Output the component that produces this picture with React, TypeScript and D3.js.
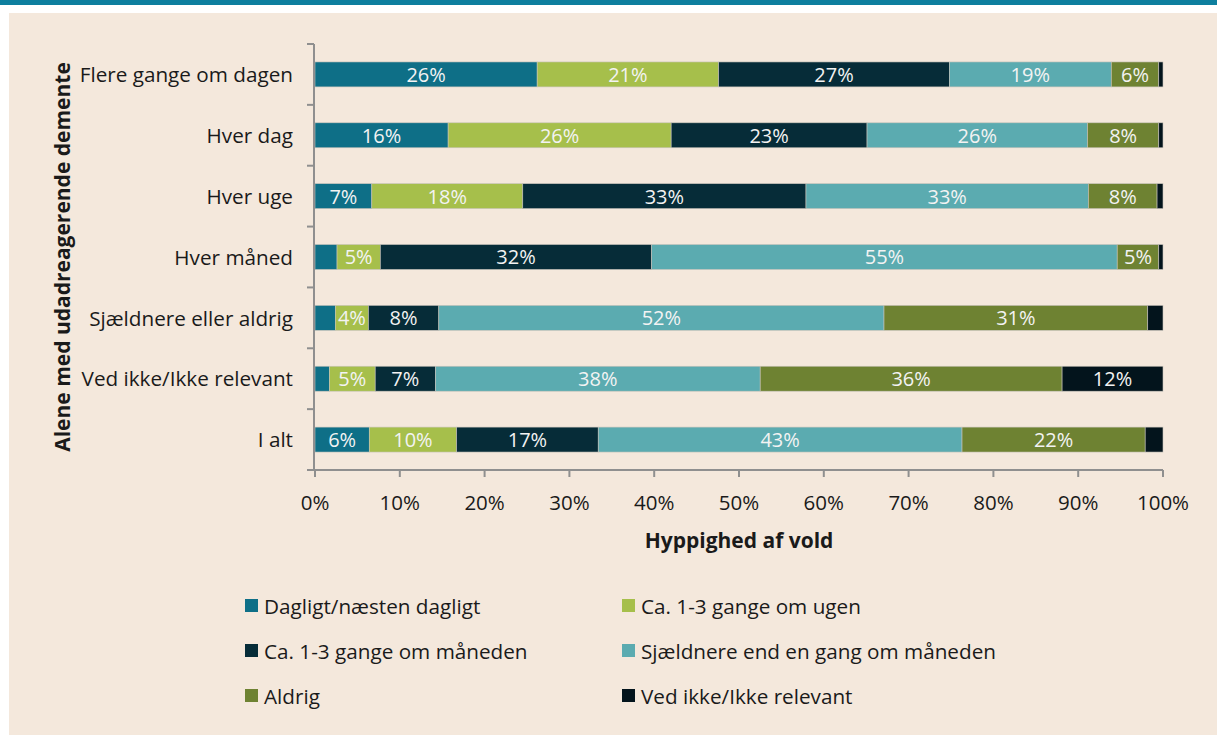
import React from "react";
import * as d3 from "d3";

const width = 1217;
const height = 735;
const margin = { top: 44, right: 54, bottom: 265, left: 315 };

const categories = [
  "Flere gange om dagen",
  "Hver dag",
  "Hver uge",
  "Hver måned",
  "Sjældnere eller aldrig",
  "Ved ikke/Ikke relevant",
  "I alt",
];

const seriesNames = [
  "Dagligt/næsten dagligt",
  "Ca. 1-3 gange om ugen",
  "Ca. 1-3 gange om måneden",
  "Sjældnere end en gang om måneden",
  "Aldrig",
  "Ved ikke/Ikke relevant",
];

// values in percent, one array per answer, in category order
const dagligt = [26.2, 15.7, 6.7, 2.6, 2.4, 1.7, 6.4];
const ugentligt = [21.4, 26.3, 17.8, 5.1, 3.9, 5.4, 10.3];
const maanedligt = [27.2, 23.1, 33.4, 32.0, 8.3, 7.1, 16.7];
const sjaeldnere = [19.1, 26.0, 33.3, 54.9, 52.5, 38.3, 42.9];
const aldrig = [5.6, 8.4, 8.1, 4.9, 31.1, 35.6, 21.6];
const vedIkke = [0.5, 0.5, 0.7, 0.5, 1.8, 11.9, 2.1];

const xTicks = [0, 10, 20, 30, 40, 50, 60, 70, 80, 90, 100];

const colors = ["#0e6f87", "#a6bf4b", "#062c38", "#5babb0", "#6e8232", "#03141c"];

const font = "'Open Sans', 'Noto Sans', sans-serif";
const textColor = "#1a1a1a";
const axisColor = "#8f8f8f";

export default function App() {
  const allSeries = [dagligt, ugentligt, maanedligt, sjaeldnere, aldrig, vedIkke];
  const table = categories.map((c, i) => {
    const row: Record<string, number | string> = { category: c };
    seriesNames.forEach((s, j) => (row[s] = allSeries[j][i]));
    return row;
  });
  const stacked = d3.stack<any>().keys(seriesNames)(table);

  const x = d3
    .scaleLinear()
    .domain([0, 100])
    .range([margin.left, width - margin.right]);
  const y = d3
    .scaleBand()
    .domain(categories)
    .range([margin.top, height - margin.bottom])
    .paddingInner(0.59)
    .paddingOuter(0.295);

  const bottom = height - margin.bottom;
  const step = y.step();
  const bw = y.bandwidth();

  // legend layout
  const legendCols = [245, 622];
  const legendRows = [606, 651, 696];

  return (
    <svg
      width={width}
      height={height}
      style={{ position: "absolute", left: 0, top: 0, fontFamily: font }}
    >
      <rect x={0} y={0} width={width} height={height} fill="#ffffff" />
      <rect x={0} y={0} width={width} height={5} fill="#0e7f9e" />
      <rect x={9} y={13} width={width - 9} height={height - 13} fill="#f4e8dc" />

      {/* bars */}
      {stacked.map((layer, j) => (
        <g key={layer.key} fill={colors[j]}>
          {layer.map((d, i) => {
            const v = d[1] - d[0];
            const x0 = x(d[0]);
            const w = x(d[1]) - x0;
            const yy = y(categories[i]) as number;
            return (
              <g key={i}>
                <rect
                  x={x0}
                  y={yy}
                  width={w}
                  height={bw}
                  stroke="#c9c4bb"
                  strokeWidth={0.6}
                />
                {v >= 3.5 && (
                  <text
                    x={x0 + w / 2}
                    y={yy + bw / 2}
                    dy="0.37em"
                    textAnchor="middle"
                    fontSize={20}
                    fill="#f3f3f3"
                  >
                    {Math.round(v)}%
                  </text>
                )}
              </g>
            );
          })}
        </g>
      ))}

      {/* y axis */}
      <line
        x1={margin.left - 1}
        x2={margin.left - 1}
        y1={margin.top}
        y2={bottom}
        stroke={axisColor}
        strokeWidth={2}
      />
      {d3.range(categories.length + 1).map((k) => (
        <line
          key={k}
          x1={margin.left - 8}
          x2={margin.left - 1}
          y1={margin.top + k * step}
          y2={margin.top + k * step}
          stroke={axisColor}
          strokeWidth={2}
        />
      ))}
      {categories.map((c) => (
        <text
          key={c}
          x={margin.left - 22}
          y={(y(c) as number) + bw / 2}
          dy="0.37em"
          textAnchor="end"
          fontSize={20.7}
          fill={textColor}
        >
          {c}
        </text>
      ))}

      {/* x axis */}
      <line
        x1={margin.left - 1}
        x2={x(100)}
        y1={bottom}
        y2={bottom}
        stroke={axisColor}
        strokeWidth={2}
      />
      {xTicks.map((t) => (
        <g key={t}>
          <line
            x1={x(t)}
            x2={x(t)}
            y1={bottom}
            y2={bottom + 7}
            stroke={axisColor}
            strokeWidth={2}
          />
          <text
            x={x(t)}
            y={bottom + 32}
            dy="0.37em"
            textAnchor="middle"
            fontSize={20.5}
            fill={textColor}
          >
            {t}%
          </text>
        </g>
      ))}

      <text
        x={(x(0) + x(100)) / 2}
        y={540}
        dy="0.37em"
        textAnchor="middle"
        fontSize={21}
        fontWeight="bold"
        fill={textColor}
      >
        Hyppighed af vold
      </text>
      <text
        transform={`translate(62, ${(margin.top + bottom) / 2}) rotate(-90)`}
        dy="0.37em"
        textAnchor="middle"
        fontSize={21}
        fontWeight="bold"
        fill={textColor}
      >
        Alene med udadreagerende demente
      </text>

      {/* legend */}
      {seriesNames.map((s, j) => {
        const lx = legendCols[j % 2];
        const ly = legendRows[Math.floor(j / 2)];
        return (
          <g key={s}>
            <rect x={lx} y={ly - 7} width={13} height={13} fill={colors[j]} />
            <text
              x={lx + 19}
              y={ly}
              dy="0.37em"
              fontSize={20.7}
              fill={textColor}
            >
              {s}
            </text>
          </g>
        );
      })}
    </svg>
  );
}
